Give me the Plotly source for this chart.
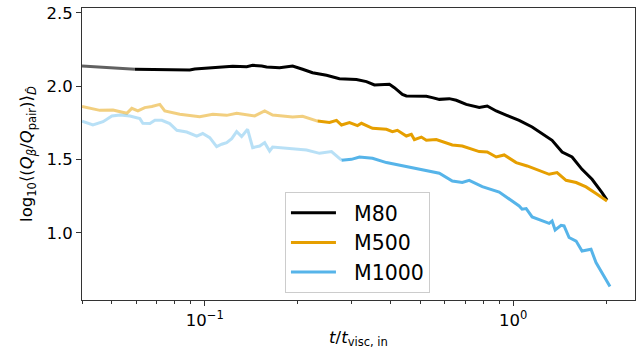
import plotly.graph_objects as go

# ---- data ----
t_m80 = [0.04, 0.0594, 0.0894, 0.0928, 0.106, 0.1232, 0.1368, 0.143, 0.153, 0.1587, 0.1748,
         0.1927, 0.2076, 0.2236, 0.2482, 0.2734, 0.3103, 0.3344, 0.3549, 0.397, 0.412, 0.4373,
         0.4504, 0.523, 0.5468, 0.5762, 0.6208, 0.6539, 0.7045, 0.7762, 0.824, 0.881, 0.9489,
         1.0457, 1.152, 1.241, 1.337, 1.441, 1.552, 1.672, 1.802, 1.941, 2.015]
v_m80 = [2.138, 2.116, 2.111, 2.118, 2.127, 2.136, 2.134, 2.143, 2.138, 2.132, 2.127,
         2.138, 2.116, 2.093, 2.075, 2.052, 2.046, 2.032, 2.009, 2.014, 1.991, 1.945,
         1.934, 1.932, 1.923, 1.911, 1.916, 1.905, 1.877, 1.855, 1.866, 1.832, 1.804,
         1.768, 1.723, 1.678, 1.632, 1.552, 1.518, 1.434, 1.366, 1.275, 1.224]

t_m500 = [0.04, 0.0457, 0.0504, 0.0559, 0.058, 0.0607, 0.0639, 0.0674, 0.0715, 0.0742, 0.083,
          0.0963, 0.1062, 0.1178, 0.1269, 0.1452, 0.1564, 0.166, 0.1927, 0.2076, 0.2321,
          0.2538, 0.2674, 0.2776, 0.2946, 0.3128, 0.3222, 0.3498, 0.3882, 0.4059, 0.4213,
          0.4504, 0.4676, 0.4782, 0.5038, 0.523, 0.5632, 0.6208, 0.6349, 0.6839, 0.737,
          0.7762, 0.824, 0.881, 0.9351, 1.0226, 1.11, 1.214, 1.308, 1.388, 1.484, 1.6,
          1.723, 1.856, 2.015]
v_m500 = [1.862, 1.836, 1.838, 1.816, 1.85, 1.832, 1.855, 1.862, 1.877, 1.832, 1.809,
          1.793, 1.809, 1.802, 1.816, 1.798, 1.832, 1.804, 1.791, 1.796, 1.763,
          1.753, 1.768, 1.736, 1.753, 1.732, 1.748, 1.714, 1.707, 1.691, 1.7,
          1.661, 1.673, 1.637, 1.654, 1.632, 1.637, 1.609, 1.6, 1.593, 1.571,
          1.555, 1.552, 1.518, 1.532, 1.48, 1.457, 1.423, 1.4, 1.412, 1.359, 1.344,
          1.314, 1.269, 1.218]

t_m1000 = [0.04, 0.0434, 0.0468, 0.05, 0.0531, 0.0572, 0.0616, 0.063, 0.0664, 0.0689, 0.0726,
           0.077, 0.0812, 0.0874, 0.0942, 0.0985, 0.1038, 0.1093, 0.1135, 0.1178, 0.1223,
           0.1269, 0.1317, 0.1377, 0.143, 0.1507, 0.1564, 0.1623, 0.166, 0.1748, 0.1927,
           0.2138, 0.2356, 0.2576, 0.2776, 0.299, 0.3174, 0.3498, 0.3882, 0.4437, 0.4963,
           0.5762, 0.6349, 0.6839, 0.7203, 0.7939, 0.901, 0.9707, 1.0457, 1.069, 1.102,
           1.152, 1.214, 1.308, 1.337, 1.368, 1.43, 1.462, 1.518, 1.6, 1.672, 1.788,
           1.856, 1.941, 2.06]
v_m1000 = [1.763, 1.736, 1.759, 1.798, 1.804, 1.798, 1.78, 1.748, 1.746, 1.768, 1.768,
           1.746, 1.7, 1.688, 1.661, 1.678, 1.65, 1.589, 1.605, 1.616, 1.643,
           1.691, 1.657, 1.707, 1.582, 1.593, 1.616, 1.559, 1.586, 1.582, 1.577,
           1.566, 1.543, 1.555, 1.496, 1.502, 1.518, 1.509, 1.48, 1.455, 1.434,
           1.407, 1.354, 1.344, 1.359, 1.316, 1.279, 1.234, 1.184, 1.162, 1.166,
           1.109, 1.093, 1.066, 1.082, 1.02, 1.052, 1.048, 0.969, 0.945, 0.877, 0.889,
           0.798, 0.73, 0.635]

# times before which each curve is drawn faded
t_fade = {"M80": 0.0594, "M500": 0.2321, "M1000": 0.2776}

series = [
    ("M80", t_m80, v_m80, "rgb(0,0,0)", "rgba(0,0,0,0.62)"),
    ("M500", t_m500, v_m500, "rgb(230,159,0)", "rgba(230,159,0,0.5)"),
    ("M1000", t_m1000, v_m1000, "rgb(86,180,233)", "rgba(86,180,233,0.42)"),
]

x_major = [0.1, 1.0]
x_major_text = ["10<sup>−1</sup>", "10<sup>0</sup>"]
x_minor = [0.04, 0.05, 0.06, 0.07, 0.08, 0.09, 0.2, 0.3, 0.4, 0.5, 0.6, 0.7, 0.8, 0.9, 2.0]
y_ticks = [1.0, 1.5, 2.0, 2.5]

fig = go.Figure()
LW = 3.0
for name, t, v, col, fcol in series:
    tf = t_fade[name]
    t1 = [a for a in t if a <= tf]
    v1 = [b for a, b in zip(t, v) if a <= tf]
    t2 = [a for a in t if a >= tf]
    v2 = [b for a, b in zip(t, v) if a >= tf]
    fig.add_trace(go.Scatter(x=t1, y=v1, mode="lines", line=dict(color=fcol, width=LW),
                             showlegend=False, hoverinfo="skip"))
    fig.add_trace(go.Scatter(x=t2, y=v2, mode="lines", line=dict(color=col, width=LW),
                             name="\u00a0\u00a0" + name))

FONT = "DejaVu Sans, Arial, sans-serif"
fig.update_layout(
    width=641, height=356,
    margin=dict(l=82, r=6, t=8, b=56),
    paper_bgcolor="white", plot_bgcolor="white",
    font=dict(family=FONT, size=16, color="black"),
    showlegend=True,
    legend=dict(x=0.367, y=0.37, xanchor="left", yanchor="top",
                bgcolor="rgba(255,255,255,0.8)", bordercolor="#cccccc", borderwidth=1,
                font=dict(size=20.5, family=FONT), itemwidth=45, tracegroupgap=0),
)
fig.update_xaxes(
    type="log", range=[-1.398, 0.395], automargin=False,
    tickmode="array", tickvals=x_major, ticktext=x_major_text,
    ticks="outside", ticklen=5, tickwidth=1, tickcolor="#333",
    showline=True, linecolor="#333", linewidth=1, mirror=True,
    showgrid=False, zeroline=False,
    minor=dict(tickmode="array", tickvals=x_minor, ticks="outside", ticklen=3,
               tickwidth=0.8, tickcolor="#333", showgrid=False),
    tickfont=dict(size=16.5),
    title=dict(text="<i>t</i>/<i>t</i><sub>visc, in</sub>", font=dict(size=16.5), standoff=2),
)
fig.update_yaxes(
    range=[0.543, 2.534], automargin=False,
    tickmode="array", tickvals=y_ticks, tickformat=".1f",
    ticks="outside", ticklen=5, tickwidth=1, tickcolor="#333",
    showline=True, linecolor="#333", linewidth=1, mirror=True,
    showgrid=False, zeroline=False,
    tickfont=dict(size=16.5),
    title=dict(text="log<sub>10</sub>⟨(<i>Q</i><sub><i>β</i></sub>/<i>Q</i><sub>pair</sub>)⟩<sub><i>D̂</i></sub>",
               font=dict(size=16.5), standoff=9),
)

fig.write_html("out.html", config={"displayModeBar": False},
               post_script="document.body.style.margin='0px';")
